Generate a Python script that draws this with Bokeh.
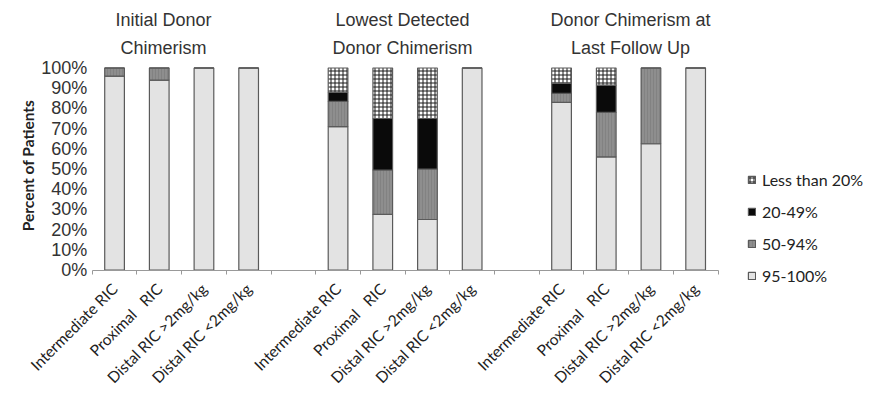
import math
from bokeh.plotting import figure
from bokeh.models import ColumnDataSource, FixedTicker, Range1d, Legend, LegendItem
from bokeh.core.properties import value
from bokeh.embed import file_html
from bokeh.resources import INLINE

# ---------------- data ----------------
categories = ["Intermediate RIC", "Proximal\u00a0\u00a0\u00a0RIC", "Distal RIC >2mg/kg", "Distal RIC <2mg/kg"]
group_titles = ["Initial Donor\nChimerism", "Lowest Detected\nDonor Chimerism", "Donor Chimerism at\nLast Follow Up"]
series_names = ["95-100%", "50-94%", "20-49%", "Less than 20%"]

# one value per bar: group1 (4 cats), group2 (4 cats), group3 (4 cats)
pct_95_100 = [96, 94, 100, 100, 71, 27.5, 25, 100, 83, 56, 62.5, 100]
pct_50_94 = [4, 6, 0, 0, 12.5, 22, 25, 0, 4.5, 22, 37.5, 0]
pct_20_49 = [0, 0, 0, 0, 4.5, 25.5, 25, 0, 5, 13.5, 0, 0]
pct_lt_20 = [0, 0, 0, 0, 12, 25, 25, 0, 7.5, 8.5, 0, 0]

y_ticks = [0, 10, 20, 30, 40, 50, 60, 70, 80, 90, 100]
y_tick_labels = ["0%", "10%", "20%", "30%", "40%", "50%", "60%", "70%", "80%", "90%", "100%"]

# ---------------- layout helpers ----------------
n_cat = len(categories)
slot = n_cat + 1  # one empty slot between groups
xs = [g * slot + i + 0.5 for g in range(len(group_titles)) for i in range(n_cat)]
xlabels = [c for _ in group_titles for c in categories]
n_slots = slot * len(group_titles) - 1

source = ColumnDataSource(dict(x=xs, s95=pct_95_100, s50=pct_50_94, s20=pct_20_49, s0=pct_lt_20))

W, H = 871, 401
X0_PX, PX_PER_SLOT = 91.7, 44.7      # pixel of x=0, pixels per slot
Y0_PX, PX_PER_PCT = 269.5, 2.02      # pixel of y=0, pixels per percent


def dx(px):
    return (px - X0_PX) / PX_PER_SLOT


def dy(py):
    return (Y0_PX - py) / PX_PER_PCT


p = figure(width=W, height=H, output_backend="svg", toolbar_location=None,
           x_range=Range1d(dx(0), dx(W)), y_range=Range1d(dy(H), dy(0)),
           min_border=0)
p.outline_line_color = None
p.xgrid.visible = False
p.ygrid.visible = False
p.background_fill_color = "white"

renderers = p.vbar_stack(
    ["s95", "s50", "s20", "s0"], x="x", width=0.44, source=source,
    fill_color=["#e3e3e3", "#8e8e8e", "#0a0a0a", "#ffffff"],
    line_color="#5a5a5a", line_width=1.2,
    hatch_pattern=[" ", "|", " ", "+"],
    hatch_color=["#777777", "#7a7a7a", "#000000", "#1a1a1a"],
    hatch_scale=[3, 3, 3, 4],
    hatch_weight=[0.6, 0.6, 0.6, 1.0],
)

legend = Legend(items=[LegendItem(label=series_names[i], renderers=[renderers[i]]) for i in [3, 2, 1, 0]],
                location=(747, 116), orientation="vertical",
                glyph_width=9, glyph_height=9, label_standoff=6, spacing=12, label_height=20,
                padding=0, margin=0, border_line_color=None, background_fill_alpha=0,
                label_text_font="Lato", label_text_font_size="16px", label_text_color="#222222")
p.add_layout(legend)

# group titles
title_x = [dx(163), dx(402), dx(630)]
title_y = [dy(33.5)] * 3
p.text(x=title_x, y=title_y, text=group_titles, text_align="center", text_baseline="middle",
       text_font=value("Liberation Sans"), text_font_size="18px", text_color="#333333",
       text_line_height=1.4)

# y axis title
p.text(x=[dx(27)], y=[dy(165)], text=["Percent of Patients"], angle=math.pi / 2,
       text_align="center", text_baseline="middle", text_font=value("Lato"),
       text_font_style="bold", text_font_size="15.5px", text_color="#222222")

# x axis
xa = p.xaxis[0]
xa.fixed_location = 0
xa.ticker = FixedTicker(ticks=xs, minor_ticks=list(range(n_slots + 1)))
xa.major_label_overrides = {x: l for x, l in zip(xs, xlabels)}
xa.major_label_orientation = math.pi / 4
xa.major_tick_in = 0
xa.major_tick_out = 0
xa.minor_tick_in = 0
xa.minor_tick_out = 4
xa.minor_tick_line_color = "#999999"
xa.axis_line_color = "#999999"
xa.bounds = (0, n_slots)
xa.major_label_text_font = "Lato"
xa.major_label_text_font_size = "15.5px"
xa.major_label_text_color = "#222222"
xa.major_label_standoff = 12

# y axis
ya = p.yaxis[0]
ya.fixed_location = 0
ya.ticker = FixedTicker(ticks=y_ticks, minor_ticks=[])
ya.major_label_overrides = {t: l for t, l in zip(y_ticks, y_tick_labels)}
ya.axis_line_color = None
ya.major_tick_in = 0
ya.major_tick_out = 0
ya.major_label_standoff = 5
ya.major_label_text_font = "Liberation Sans"
ya.major_label_text_font_size = "18px"
ya.major_label_text_color = "#333333"

open("out.html", "w").write(file_html(p, INLINE))
